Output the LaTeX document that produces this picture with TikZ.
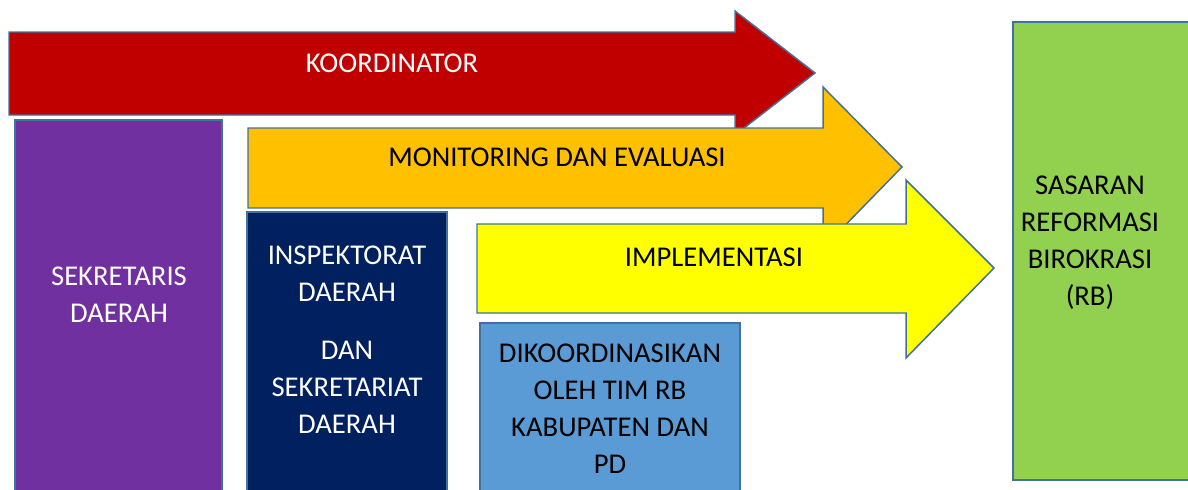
\documentclass[tikz,border=0pt]{standalone}
\usepackage{fontspec}
\setmainfont{Carlito}
\usetikzlibrary{positioning}

\definecolor{rbred}{HTML}{C00000}
\definecolor{rborange}{HTML}{FFC000}
\definecolor{rbyellow}{HTML}{FFFF00}
\definecolor{rbpurple}{HTML}{7030A0}
\definecolor{rbnavy}{HTML}{002060}
\definecolor{rbblue}{HTML}{5B9BD5}
\definecolor{rbgreen}{HTML}{92D050}
\definecolor{rbedge}{HTML}{41719C}

\begin{document}
\begin{tikzpicture}[
    x=0.02cm, y=-0.02cm,
    block/.style={draw=rbedge, line width=0.85pt, line join=miter},
    label/.style={align=center, font=\fontsize{16.3}{21}\selectfont, inner sep=0pt}
]
\useasboundingbox (0,0) rectangle (1188,490);

% Arrows, back to front
\draw[block, fill=rbred] (9,32) -- (735,32) -- (735,11) -- (815,73) -- (735,135) -- (735,115) -- (9,115) -- cycle;
\draw[block, fill=rborange] (248,128) -- (823,128) -- (823,87) -- (902,167) -- (823,248) -- (823,208) -- (248,208) -- cycle;
\draw[block, fill=rbyellow] (477,224) -- (906,224) -- (906,180) -- (994,268) -- (906,358) -- (906,313) -- (477,313) -- cycle;

\node[label, text=white] (koord) at (392,63) {KOORDINATOR};
\node[label] (monev) at (557,157) {MONITORING DAN EVALUASI};
\node[label] (impl) at (714,257) {IMPLEMENTASI};

% Boxes under the arrows
\draw[block, fill=rbpurple] (15,120) rectangle (222,496);
\draw[block, fill=rbnavy] (247,212) rectangle (447,496);
\draw[block, fill=rbblue] (480,323) rectangle (740,496);
\draw[block, fill=rbgreen] (1013,22) rectangle (1196,480);

\node[label, text=white] (sekda) at (119,295) {SEKRETARIS\\DAERAH};
\node[label, text=white, anchor=north] (inspek) at (347,246) {INSPEKTORAT\\DAERAH\\[12pt]DAN\\SEKRETARIAT\\DAERAH};
\node[label, anchor=north] (timrb) at (610,344) {DIKOORDINASIKAN\\OLEH TIM RB\\KABUPATEN DAN\\PD};
\node[label] (sasaran) at (1090,243) {SASARAN\\REFORMASI\\BIROKRASI\\(RB)};
\end{tikzpicture}
\end{document}
